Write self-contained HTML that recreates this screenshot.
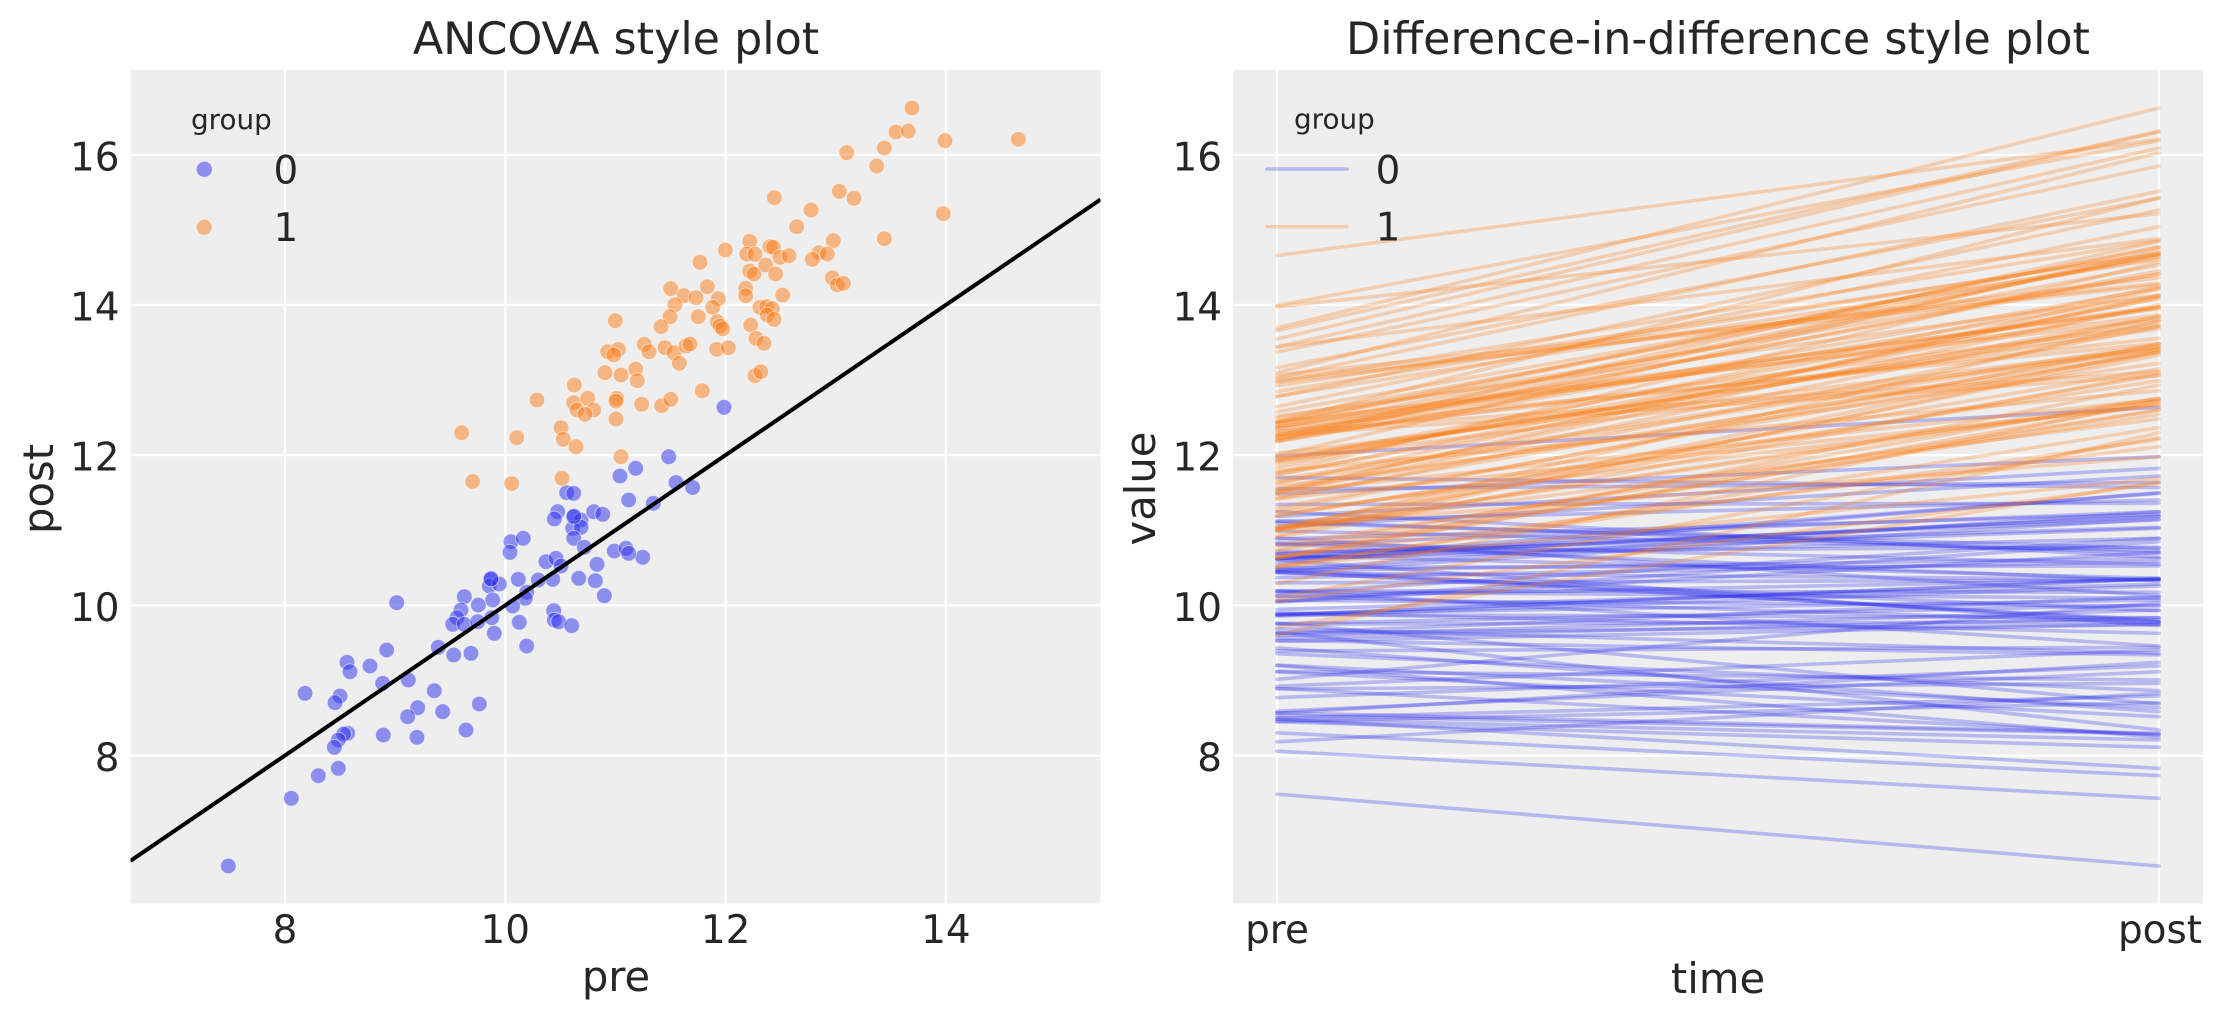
<!DOCTYPE html>
<html><head><meta charset="utf-8">
<style>
html,body{margin:0;padding:0;background:#fff;width:2223px;height:1023px;overflow:hidden;}
svg{display:block;}
text{font-family:"DejaVu Sans","Liberation Sans",sans-serif;fill:#262626;}
</style></head>
<body>
<svg id="s" width="2223" height="1023" viewBox="0 0 2223 1023" xmlns="http://www.w3.org/2000/svg">
<defs>
<clipPath id="cl"><rect x="130.5" y="70" width="970" height="833.5"/></clipPath>
<clipPath id="cr"><rect x="1233" y="70" width="970" height="833.5"/></clipPath>
</defs>
<rect width="2223" height="1023" fill="#fff"/>

<!-- LEFT AXES -->
<rect x="130.5" y="70" width="970" height="833.5" fill="#eeeeee"/>
<g stroke="#ffffff" stroke-width="2.2">
<line x1="285" y1="70" x2="285" y2="903.5"/>
<line x1="505.3" y1="70" x2="505.3" y2="903.5"/>
<line x1="725.6" y1="70" x2="725.6" y2="903.5"/>
<line x1="945.9" y1="70" x2="945.9" y2="903.5"/>
<line x1="130.5" y1="755.6" x2="1100.5" y2="755.6"/>
<line x1="130.5" y1="605.3" x2="1100.5" y2="605.3"/>
<line x1="130.5" y1="455.1" x2="1100.5" y2="455.1"/>
<line x1="130.5" y1="304.9" x2="1100.5" y2="304.9"/>
<line x1="130.5" y1="154.8" x2="1100.5" y2="154.8"/>
</g>
<g id="L" clip-path="url(#cl)"></g>
<line x1="130.5" y1="860.8" x2="1100.5" y2="199.5" stroke="#000" stroke-width="4" clip-path="url(#cl)"/>

<!-- left legend -->
<text x="191" y="129" font-size="27.8">group</text>
<circle cx="204.3" cy="169.3" r="8" fill="#2a2eec" fill-opacity="0.5" stroke="#fff" stroke-opacity="0.5" stroke-width="1"/>
<circle cx="204.3" cy="227.3" r="8" fill="#fa7c17" fill-opacity="0.5" stroke="#fff" stroke-opacity="0.5" stroke-width="1"/>
<text x="273.5" y="183.3" font-size="38.9">0</text>
<text x="273.5" y="241" font-size="38.9">1</text>

<!-- left ticks -->
<g font-size="38.9" text-anchor="middle">
<text x="285" y="943">8</text>
<text x="505.3" y="943">10</text>
<text x="725.6" y="943">12</text>
<text x="945.9" y="943">14</text>
</g>
<g font-size="38.9" text-anchor="end">
<text x="119.5" y="771.2">8</text>
<text x="119.5" y="620.9">10</text>
<text x="119.5" y="470.7">12</text>
<text x="119.5" y="320.5">14</text>
<text x="119.5" y="170.4">16</text>
</g>
<text x="616" y="54" font-size="44.4" text-anchor="middle">ANCOVA style plot</text>
<text x="616" y="991" font-size="41.7" text-anchor="middle">pre</text>
<text transform="translate(53,489) rotate(-90)" font-size="41.7" text-anchor="middle">post</text>

<!-- RIGHT AXES -->
<rect x="1233" y="70" width="970" height="833.5" fill="#eeeeee"/>
<g stroke="#ffffff" stroke-width="2.2">
<line x1="1277" y1="70" x2="1277" y2="903.5"/>
<line x1="2159" y1="70" x2="2159" y2="903.5"/>
<line x1="1233" y1="755.6" x2="2203" y2="755.6"/>
<line x1="1233" y1="605.3" x2="2203" y2="605.3"/>
<line x1="1233" y1="455.1" x2="2203" y2="455.1"/>
<line x1="1233" y1="304.9" x2="2203" y2="304.9"/>
<line x1="1233" y1="154.8" x2="2203" y2="154.8"/>
</g>
<g id="RB" clip-path="url(#cr)" stroke="#2a2eec" stroke-width="3.6" stroke-opacity="0.28" stroke-linecap="round" fill="none"></g>
<g id="RO" clip-path="url(#cr)" stroke="#fa7c17" stroke-width="3.6" stroke-opacity="0.28" stroke-linecap="round" fill="none"></g>

<!-- right legend -->
<text x="1294" y="128.3" font-size="27.8">group</text>
<line x1="1267" y1="169" x2="1347" y2="169" stroke="#2a2eec" stroke-opacity="0.28" stroke-width="3.6" stroke-linecap="round"/>
<line x1="1267" y1="226.7" x2="1347" y2="226.7" stroke="#fa7c17" stroke-opacity="0.28" stroke-width="3.6" stroke-linecap="round"/>
<text x="1375.6" y="183.3" font-size="38.9">0</text>
<text x="1375.6" y="240.7" font-size="38.9">1</text>

<!-- right ticks -->
<g font-size="38.9" text-anchor="middle">
<text x="1277" y="943">pre</text>
<text x="2160" y="943">post</text>
</g>
<g font-size="38.9" text-anchor="end">
<text x="1222" y="771.2">8</text>
<text x="1222" y="620.9">10</text>
<text x="1222" y="470.7">12</text>
<text x="1222" y="320.5">14</text>
<text x="1222" y="170.4">16</text>
</g>
<text x="1718" y="54" font-size="44.4" text-anchor="middle">Difference-in-difference style plot</text>
<text x="1718" y="993" font-size="41.7" text-anchor="middle">time</text>
<text transform="translate(1155,488.5) rotate(-90)" font-size="41.7" text-anchor="middle">value</text>
</svg>
<script>
(function(){
var NS="http://www.w3.org/2000/svg";
var O=[[615.3,320.7],[607.7,351.7],[618.3,349.3],[613.7,355],[605,372.7],[621,375],[574.3,385],[537,400],[573.7,402.7],[587.7,398.3],[577,410],[593.7,410],[585,414.3],[616.7,398.3],[616,401],[616,419],[561,427.7],[563.3,439.3],[576,446.7],[461.7,432.7],[516.7,437.7],[621,456.7],[472.7,481.5],[511.7,483.5],[562,478.3],
[912,108],[896,132],[908.3,131],[945,140.7],[1018.3,139.3],[846.7,152.7],[884.3,148],[876.7,166],[839.3,191.3],[854,198.3],[774.3,197.7],[943.3,213.7],[811,210],[796.7,226.7],[884.3,238.7],[749.7,241.3],[725.3,250],[770,246.7],[773.3,247.3],[833.3,240.7],[746.7,254],[755,254.3],[780,257.3],[789,255.7],[819,252.7],[827.3,254],[812.3,259.3],[700,262.3],[765.7,265],[749.7,271],[754,274],[775.7,274],[832.3,277.7],[837.3,285],[843.3,283.3],[670.7,288.7],[707.3,286.7],[684,295.7],[696,297.7],[745.7,288.3],[745.7,295.7],[782.7,295],[718.3,298.7],[675,304.7],[712.7,307.3],[760,307.3],[766.7,306.7],[772.3,308.7],[767.3,315],[774,319.3],[670,316.7],[698.3,316.7],[661,326.7],[717.3,321.7],[720,326],[722.7,328.7],[750.7,325],[644.3,344.3],[649,351.7],[665,347.7],[674,352.7],[686,346],[690,344],[716.7,349.3],[728.3,347.7],[756,338.3],[764,343.3],[679.3,363.3],[635.7,369],[637.3,380.7],[755,375.7],[760.7,371.7],[702.3,390.7],[641.7,404.3],[661.7,405.7],[670.7,399.3]];
var B=[[724,407.3],[668.7,456.7],[635.7,468.3],[676,482.5],[692.7,487.5],[653.3,503.3],[642.7,557.3],
[620,476],[566.7,492.7],[573.7,493.3],[628.7,500],[557.7,511.7],[554.3,519],[574.3,516],[581,520],[593.7,511.7],[602.7,514.3],[572.7,528.3],[581,527.3],[573.7,538.3],[584.3,547.3],[511,541.7],[523.3,538.3],[510,552.3],[614.3,551],[626,548.3],[628.7,553.3],[546,561.7],[556,558.3],[561,566],[552.7,579.3],[597,564.3],[578.7,578.3],[595.3,580.7],[604.3,595.7],[538.3,580],[518.3,579.3],[491,578.3],[489.3,586],[499.3,584],[492.7,600],[526.7,592.3],[525.3,598.3],[512.7,606],[464.3,596.7],[478.3,605],[461,610],[457,617.7],[452.7,624.3],[464.3,624.3],[477.7,621.7],[491.7,617.7],[494.3,633.3],[519.3,622.3],[526.7,646],[553.7,610.7],[554.3,620],[558.7,621.7],[571.7,625.7],[396.7,602.7],[438.3,647.3],[453.7,655],[471,653.3],[386.7,650],[370,666],[347,662.3],[350,671.7],[382.7,683.3],[408.3,680],[434.3,690.7],[305,693.3],[340,696],[335,702.7],[417.7,707.7],[407.7,716.7],[442.7,711.7],[479.3,704],[347.7,733.3],[343.7,734],[338.3,740],[334.3,747.3],[383.3,735],[417,737.3],[466,730],[318.3,775.7],[338.3,768.3],[291.3,798.3],[228.3,866],[491,579],[573.7,516.5]];
var L=document.getElementById('L'),RB=document.getElementById('RB'),RO=document.getElementById('RO');
function preY(px){return 755.48-0.681706*(px-285);}
function circ(p,col){var c=document.createElementNS(NS,'circle');c.setAttribute('cx',p[0]);c.setAttribute('cy',p[1]);c.setAttribute('r',7.8);c.setAttribute('fill',col);c.setAttribute('fill-opacity','0.5');c.setAttribute('stroke','#ffffff');c.setAttribute('stroke-opacity','0.5');c.setAttribute('stroke-width','1');L.appendChild(c);}
function ln(p,g){var l=document.createElementNS(NS,'line');l.setAttribute('x1',1277);l.setAttribute('y1',preY(p[0]).toFixed(2));l.setAttribute('x2',2159);l.setAttribute('y2',p[1]);g.appendChild(l);}
var n=Math.max(O.length,B.length);
for(var i=0;i<n;i++){if(i<B.length)circ(B[i],'#2a2eec');if(i<O.length)circ(O[i],'#fa7c17');}
B.forEach(function(p){ln(p,RB);});
O.forEach(function(p){ln(p,RO);});
})();
</script>
</body></html>
